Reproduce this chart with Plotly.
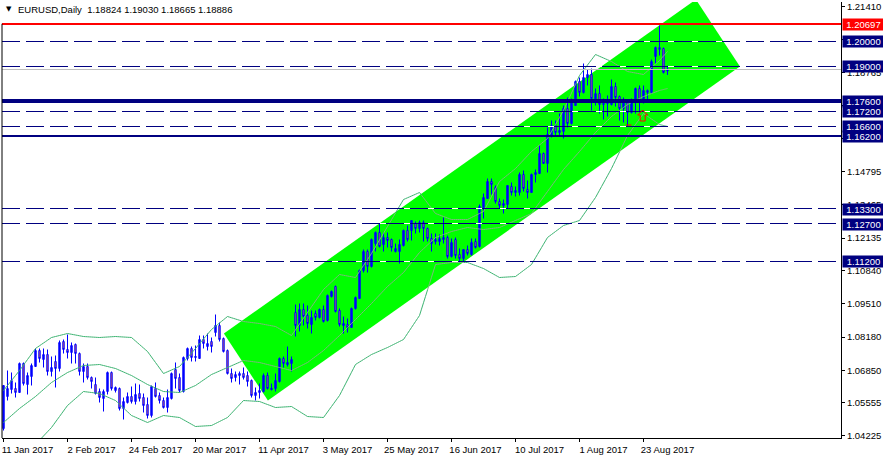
import math
import numpy as np
import plotly.graph_objects as go

SYMBOL_TEXT = "EURUSD,Daily  1.18824 1.19030 1.18665 1.18886"

opens = [1.0452,1.0580,1.0608,1.0612,1.0596,1.0712,1.0628,1.0660,1.0700,1.0764,1.0728,1.0748,1.0680,1.0720,1.0692,1.0800,1.0768,1.0756,1.0788,1.0752,
1.0680,1.0700,1.0656,1.0628,1.0600,1.0572,1.0600,1.0676,1.0604,1.0612,1.0532,1.0556,1.0580,1.0560,1.0592,1.0576,1.0548,1.0504,1.0612,1.0584,
1.0564,1.0536,1.0572,1.0688,1.0656,1.0600,1.0732,1.0772,1.0736,1.0732,1.0808,1.0780,1.0800,1.0836,1.0864,1.0812,1.0764,1.0672,1.0656,1.0664,
1.0672,1.0664,1.0644,1.0584,1.0596,1.0600,1.0664,1.0608,1.0612,1.0640,1.0732,1.0708,1.0712,1.0916,1.0864,1.0928,1.0904,1.0868,1.0912,1.0896,
1.0928,1.0884,1.0980,1.1020,1.0924,1.0864,1.0868,1.0856,1.0932,1.0972,1.1084,1.1160,1.1100,1.1192,1.1236,1.1188,1.1216,1.1208,1.1160,1.1160,
1.1184,1.1244,1.1244,1.1272,1.1252,1.1276,1.1252,1.1212,1.1200,1.1200,1.1208,1.1216,1.1140,1.1208,1.1148,1.1132,1.1168,1.1148,1.1200,1.1180,
1.1336,1.1372,1.1440,1.1416,1.1360,1.1344,1.1348,1.1420,1.1396,1.1396,1.1468,1.1408,1.1396,1.1468,1.1472,1.1552,1.1512,1.1620,1.1664,1.1636,
1.1640,1.1732,1.1672,1.1744,1.1840,1.1796,1.1856,1.1868,1.1768,1.1792,1.1748,1.1752,1.1748,1.1820,1.1780,1.1732,1.1764,1.1716,1.1756,1.1812,
1.1756,1.1804,1.1796,1.1940,1.1976,1.1972,1.18824]
highs = [1.0624,1.0684,1.0676,1.0636,1.0716,1.0716,1.0676,1.0712,1.0772,1.0772,1.0772,1.0768,1.0740,1.0744,1.0804,1.0808,1.0828,1.0796,1.0792,1.0756,
1.0712,1.0712,1.0660,1.0656,1.0612,1.0608,1.0680,1.0680,1.0620,1.0616,1.0576,1.0596,1.0620,1.0632,1.0628,1.0592,1.0576,1.0624,1.0636,1.0596,
1.0576,1.0608,1.0676,1.0716,1.0672,1.0740,1.0776,1.0780,1.0784,1.0824,1.0824,1.0832,1.0816,1.0908,1.0876,1.0816,1.0768,1.0692,1.0680,1.0680,
1.0696,1.0680,1.0648,1.0616,1.0632,1.0672,1.0676,1.0632,1.0672,1.0736,1.0740,1.0780,1.0740,1.0948,1.0952,1.0952,1.0944,1.0924,1.0924,1.0932,
1.0944,1.0988,1.1004,1.1024,1.0932,1.0900,1.0892,1.0936,1.0980,1.1088,1.1168,1.1168,1.1212,1.1240,1.1272,1.1236,1.1236,1.1212,1.1192,1.1208,
1.1248,1.1264,1.1284,1.1280,1.1284,1.1284,1.1256,1.1232,1.1232,1.1228,1.1296,1.1224,1.1212,1.1216,1.1172,1.1168,1.1184,1.1212,1.1212,1.1348,
1.1392,1.1452,1.1452,1.1424,1.1372,1.1368,1.1424,1.1436,1.1420,1.1476,1.1484,1.1444,1.1472,1.1488,1.1584,1.1556,1.1656,1.1684,1.1684,1.1712,
1.1744,1.1776,1.1772,1.1844,1.1856,1.1912,1.1888,1.1892,1.1812,1.1824,1.1772,1.1784,1.1848,1.1836,1.1784,1.1776,1.1768,1.1772,1.1816,1.1824,
1.1824,1.1808,1.1928,1.1980,1.2064,1.1976,1.19030]
lows = [1.0444,1.0564,1.0592,1.0576,1.0596,1.0624,1.0588,1.0624,1.0700,1.0716,1.0696,1.0664,1.0660,1.0616,1.0680,1.0752,1.0732,1.0712,1.0712,1.0664,
1.0636,1.0648,1.0612,1.0588,1.0556,1.0520,1.0588,1.0604,1.0596,1.0524,1.0488,1.0552,1.0552,1.0548,1.0560,1.0516,1.0492,1.0496,1.0576,1.0552,
1.0532,1.0516,1.0568,1.0612,1.0596,1.0596,1.0724,1.0720,1.0720,1.0732,1.0772,1.0764,1.0756,1.0820,1.0800,1.0756,1.0668,1.0636,1.0640,1.0628,
1.0648,1.0620,1.0576,1.0564,1.0572,1.0596,1.0608,1.0604,1.0600,1.0636,1.0696,1.0700,1.0680,1.0820,1.0840,1.0864,1.0852,1.0832,1.0884,1.0892,
1.0876,1.0880,1.0976,1.0916,1.0860,1.0832,1.0836,1.0856,1.0928,1.0972,1.1076,1.1076,1.1096,1.1160,1.1176,1.1160,1.1176,1.1160,1.1156,1.1112,
1.1180,1.1200,1.1204,1.1232,1.1236,1.1200,1.1200,1.1160,1.1188,1.1184,1.1192,1.1132,1.1136,1.1132,1.1116,1.1120,1.1144,1.1144,1.1172,1.1176,
1.1292,1.1372,1.1388,1.1352,1.1332,1.1312,1.1332,1.1384,1.1380,1.1384,1.1400,1.1372,1.1396,1.1436,1.1472,1.1512,1.1476,1.1616,1.1624,1.1624,
1.1612,1.1656,1.1668,1.1744,1.1780,1.1792,1.1824,1.1724,1.1744,1.1712,1.1688,1.1700,1.1744,1.1740,1.1684,1.1676,1.1660,1.1712,1.1712,1.1716,
1.1752,1.1756,1.1792,1.1912,1.1944,1.1872,1.18665]
closes = [1.0624,1.0612,1.0644,1.0596,1.0712,1.0632,1.0664,1.0704,1.0764,1.0732,1.0748,1.0680,1.0696,1.0692,1.0796,1.0768,1.0756,1.0784,1.0752,1.0680,
1.0700,1.0656,1.0640,1.0592,1.0576,1.0600,1.0676,1.0612,1.0616,1.0532,1.0560,1.0580,1.0560,1.0588,1.0572,1.0544,1.0504,1.0620,1.0580,1.0564,
1.0536,1.0576,1.0672,1.0652,1.0604,1.0736,1.0772,1.0736,1.0740,1.0808,1.0792,1.0792,1.0780,1.0864,1.0808,1.0760,1.0672,1.0652,1.0668,1.0672,
1.0656,1.0640,1.0584,1.0596,1.0604,1.0664,1.0612,1.0612,1.0644,1.0732,1.0712,1.0716,1.0728,1.0864,1.0928,1.0900,1.0872,1.0896,1.0896,1.0928,
1.0880,1.0984,1.1000,1.0920,1.0868,1.0872,1.0856,1.0932,1.0976,1.1084,1.1160,1.1100,1.1208,1.1236,1.1180,1.1216,1.1204,1.1176,1.1172,1.1188,
1.1244,1.1208,1.1284,1.1252,1.1276,1.1252,1.1212,1.1192,1.1208,1.1212,1.1216,1.1140,1.1196,1.1144,1.1132,1.1168,1.1152,1.1196,1.1176,1.1340,
1.1376,1.1440,1.1428,1.1360,1.1344,1.1352,1.1424,1.1396,1.1404,1.1468,1.1412,1.1396,1.1468,1.1476,1.1552,1.1512,1.1628,1.1664,1.1636,1.1644,
1.1732,1.1672,1.1764,1.1840,1.1796,1.1856,1.1868,1.1772,1.1792,1.1748,1.1752,1.1768,1.1820,1.1776,1.1732,1.1768,1.1716,1.1756,1.1812,1.1756,
1.1804,1.1796,1.1920,1.1976,1.1968,1.1876,1.18886]

band_index = [0,4,8,12,16,20,24,28,32,36,40,44,48,52,56,60,64,68,72,76,80,84,88,92,96,100,104,108,112,116,120,124,128,132,136,140,144,148,152,156,160,164,166]
band_upper = [1.0604,1.0684,1.0772,1.0816,1.0832,1.0820,1.0816,1.0820,1.0816,1.0760,1.0672,1.0700,1.0772,1.0848,1.0900,1.0880,1.0872,1.0860,1.0824,1.0916,
1.1008,1.1068,1.1056,1.1152,1.1260,1.1368,1.1396,1.1312,1.1288,1.1288,1.1320,1.1440,1.1492,1.1560,1.1612,1.1724,1.1864,1.1948,1.1920,1.1880,1.1868,1.1924,1.1960]
band_middle = [1.0476,1.0532,1.0580,1.0636,1.0676,1.0704,1.0708,1.0692,1.0664,1.0628,1.0600,1.0596,1.0624,1.0668,1.0696,1.0724,1.0716,1.0700,1.0684,1.0716,
1.0764,1.0824,1.0888,1.0952,1.1020,1.1076,1.1156,1.1216,1.1240,1.1256,1.1248,1.1256,1.1284,1.1312,1.1400,1.1488,1.1560,1.1636,1.1700,1.1748,1.1780,1.1804,1.1812]
band_lower = [1.0348,1.0380,1.0388,1.0456,1.0544,1.0600,1.0592,1.0564,1.0504,1.0476,1.0504,1.0496,1.0460,1.0464,1.0496,1.0564,1.0560,1.0536,1.0540,1.0500,
1.0496,1.0584,1.0708,1.0748,1.0776,1.0808,1.0904,1.1108,1.1116,1.1116,1.1092,1.1056,1.1060,1.1108,1.1216,1.1264,1.1284,1.1376,1.1492,1.1624,1.1712,1.1668,1.1660]

channel_index = [55.1, 66.1, 184.1, 173.1]
channel_price = [1.0832, 1.0564, 1.1900, 1.2168]

red_level = [1.20697]
thick_level = [1.17600]
solid_level = [1.16200]
dashed_levels = [1.20000, 1.19000, 1.17200, 1.16600, 1.13300, 1.12700, 1.11200]

y_ticks = [1.21410,1.20085,1.18765,1.17440,1.16115,1.14795,1.13465,1.12135,1.10840,1.09510,1.08180,1.06850,1.05555,1.04225]
date_ticks = [0,16,32,48,64,80,96,112,128,144,160]
date_labels = ["11 Jan 2017","2 Feb 2017","24 Feb 2017","20 Mar 2017","11 Apr 2017","3 May 2017","25 May 2017","16 Jun 2017","10 Jul 2017","1 Aug 2017","23 Aug 2017"]

arrow_at = (159.8, 1.1702)
red_mark = (156.3, 1.1666)

FONT = "Liberation Sans"
NAVY = "#000080"
BAND_OUT = "#3CB371"
BAND_IN = "#7DB77D"
Y_TOP = 1.2158
PIXEL = 0.0004


def snap_odd(y):
    """Centre a 1 px line on a pixel row so it renders crisp."""
    v = round((Y_TOP - y) / PIXEL, 4)
    return Y_TOP - (math.ceil(v) - 0.5) * PIXEL


def snap_even(y):
    """Centre an even-width line on a pixel boundary."""
    v = round((Y_TOP - y) / PIXEL, 4)
    return Y_TOP - math.floor(v + 0.49) * PIXEL


def inside(x, y):
    s = []
    n = len(channel_index)
    for k in range(n):
        x1, y1 = channel_index[k], channel_price[k]
        x2, y2 = channel_index[(k + 1) % n], channel_price[(k + 1) % n]
        s.append((x2 - x1) * (y - y1) - (y2 - y1) * (x - x1))
    return all(v >= 0 for v in s) or all(v <= 0 for v in s)


def split_band(values):
    """Divide a band line into the parts outside and over the channel, for colouring."""
    out_x, out_y, in_x, in_y = [], [], [], []
    for a in range(len(band_index) - 1):
        xs = np.linspace(band_index[a], band_index[a + 1], 9)
        ys = np.linspace(values[a], values[a + 1], 9)
        for b in range(8):
            mid = inside((xs[b] + xs[b + 1]) / 2, (ys[b] + ys[b + 1]) / 2)
            tx, ty = (in_x, in_y) if mid else (out_x, out_y)
            tx += [xs[b], xs[b + 1], None]
            ty += [ys[b], ys[b + 1], None]
    return out_x, out_y, in_x, in_y


fig = go.Figure()

channel_path = "M " + " L ".join(f"{a},{b}" for a, b in zip(channel_index, channel_price)) + " Z"
fig.add_shape(type="path", xref="x", yref="y", path=channel_path, fillcolor="#00FF00",
              line=dict(width=0), layer="below")

fig.add_trace(go.Candlestick(x=list(range(len(opens))), open=opens, high=highs, low=lows, close=closes,
                             increasing=dict(line=dict(color="#0000FF", width=1), fillcolor="#0000FF"),
                             decreasing=dict(line=dict(color="#0000FF", width=1), fillcolor="#F0705A"),
                             whiskerwidth=0, hoverinfo="skip", showlegend=False))

for band in (band_upper, band_middle, band_lower):
    ox, oy, ix, iy = split_band(band)
    fig.add_trace(go.Scatter(x=ox, y=oy, mode="lines", line=dict(color=BAND_OUT, width=1),
                             hoverinfo="skip", showlegend=False))
    fig.add_trace(go.Scatter(x=ix, y=iy, mode="lines", line=dict(color=BAND_IN, width=1),
                             hoverinfo="skip", showlegend=False))

fig.add_trace(go.Scatter(x=[red_mark[0]], y=[red_mark[1]], mode="markers",
                         marker=dict(symbol="line-ew", size=4, line=dict(color="#FF0000", width=1)),
                         hoverinfo="skip", showlegend=False))


def level(y, color, width, dash="solid"):
    fig.add_shape(type="line", xref="paper", x0=0, x1=1, yref="y", y0=y, y1=y,
                  line=dict(color=color, width=width, dash=dash), layer="above")


level(snap_odd(closes[-1]), "#C0C0C0", 1)
for y in dashed_levels:
    level(snap_odd(y), "#FFFFFF", 1)
    level(snap_odd(y), NAVY, 1, "18px,6px")
for y in red_level:
    level(snap_even(y), "#FF0000", 2)
for y in thick_level:
    level(snap_even(y), NAVY, 4)
for y in solid_level:
    level(snap_even(y), NAVY, 2)

# left border stops under the header
fig.add_shape(type="line", xref="paper", x0=0, x1=0, yref="paper", y0=0, y1=0.95,
              line=dict(color="black", width=1), layer="above")

# hollow buy-arrow object, drawn in pixels around its anchor
fig.add_shape(type="path", xref="x", yref="y", xsizemode="pixel", ysizemode="pixel",
              xanchor=arrow_at[0], yanchor=arrow_at[1],
              path="M 0,6 L 5,1 L 2.5,1 L 2.5,-5 L -2.5,-5 L -2.5,1 L -5,1 Z",
              line=dict(color="#FF0000", width=1), fillcolor="rgba(0,0,0,0)", layer="above")

for y in sorted(dashed_levels + thick_level + solid_level + red_level):
    fig.add_annotation(xref="paper", yref="y", x=1, y=y, xanchor="left", yanchor="middle", xshift=1,
                       text=f"{y:.5f}", showarrow=False, width=41, height=11, borderpad=0, align="center",
                       bgcolor="#FF0000" if y in red_level else NAVY,
                       font=dict(family=FONT, size=9.5, color="white"))

fig.add_annotation(xref="paper", yref="paper", x=0, y=1, xanchor="left", yanchor="top", xshift=14, yshift=0,
                   text=SYMBOL_TEXT, showarrow=False, font=dict(family=FONT, size=9.5, color="black"))
fig.add_annotation(xref="paper", yref="paper", x=0, y=1, xanchor="left", yanchor="top", xshift=2, yshift=-1,
                   text="\u25bc", showarrow=False, font=dict(family="DejaVu Sans", size=7, color="black"))

fig.update_layout(
    width=883, height=459, margin=dict(l=2, r=42, t=2, b=21, autoexpand=False),
    paper_bgcolor="white", plot_bgcolor="white", showlegend=False, boxgap=0.5, hovermode=False,
    font=dict(family=FONT, size=9.5, color="black"),
    xaxis=dict(range=[-0.375, 209.375], tickvals=date_ticks, ticktext=date_labels, showgrid=False, zeroline=False,
               showline=True, linecolor="black", linewidth=1, ticks="outside", ticklen=3, tickcolor="black",
               rangeslider=dict(visible=False), ticklabelshift=24, tickangle=0),
    yaxis=dict(range=[1.0414, Y_TOP], side="right", tickvals=y_ticks, ticktext=[f"{v:.5f}" for v in y_ticks],
               showgrid=False, zeroline=False, showline=True, linecolor="black", linewidth=1,
               ticks="outside", ticklen=3, tickcolor="black"),
)

fig.write_html("out.html", config=dict(displayModeBar=False), post_script="document.body.style.margin='0';")
